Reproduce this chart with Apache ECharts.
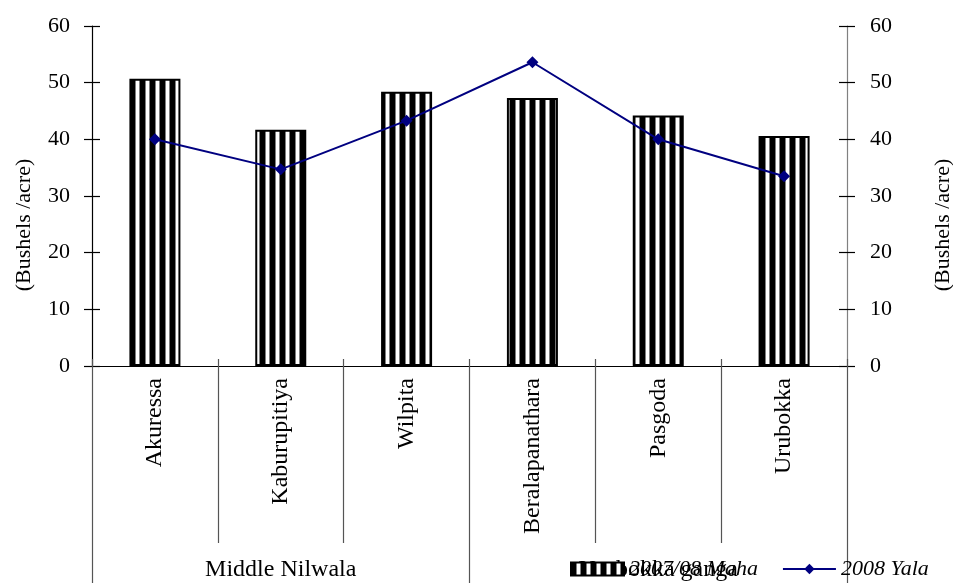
<!DOCTYPE html>
<html>
<head>
<meta charset="utf-8">
<script src="https://cdn.jsdelivr.net/npm/echarts@6/dist/echarts.min.js"></script>
<style>
  html, body { margin: 0; padding: 0; background: #fff; }
  #chart { width: 953px; height: 583px; }
</style>
</head>
<body>
<div id="chart"></div>
<script>
// Paddy yield by location, two seasons
const locations = ['Akuressa', 'Kaburupitiya', 'Wilpita', 'Beralapanathara', 'Pasgoda', 'Urubokka'];
const regions = ['Middle Nilwala', 'Urubokka ganga'];
const maha200708 = [50.7, 41.7, 48.4, 47.3, 44.2, 40.6];
const yala2008 = [40.0, 34.7, 43.3, 53.6, 40.0, 33.5];
const yTicks = { min: 0, max: 60, interval: 10 };

const FONT = '"Liberation Serif", "Times New Roman", serif';

// vertical stripe fill for the bars
function stripeCanvas() {
  const c = document.createElement('canvas');
  c.width = 10; c.height = 10;
  const g = c.getContext('2d');
  g.fillStyle = '#ffffff'; g.fillRect(0, 0, 10, 10);
  g.fillStyle = '#000000'; g.fillRect(0, 0, 5, 10);
  g.fillStyle = '#808080'; g.fillRect(5, 0, 1, 10); g.fillRect(9, 0, 1, 10);
  return c;
}
const stripes = { image: stripeCanvas(), repeat: 'repeat' };

const chart = echarts.init(document.getElementById('chart'), null, { renderer: 'canvas' });

const valueAxisBase = {
  type: 'value', min: yTicks.min, max: yTicks.max, interval: yTicks.interval,
  splitLine: { show: false }
};

chart.setOption({
  animation: false,
  backgroundColor: '#ffffff',
  grid: [
    { left: 92, right: 106, top: 26, bottom: 217, containLabel: false, outerBoundsMode: 'none' },
    // strip under the location labels holding the region names
    { left: 92, right: 106, top: 543, bottom: 0, containLabel: false, outerBoundsMode: 'none' }
  ],
  legend: {
    left: 570, top: 558, padding: 0,
    itemWidth: 53, itemHeight: 13, itemGap: 24,
    textStyle: { fontFamily: FONT, fontSize: 22, fontStyle: 'italic', color: '#000' },
    data: [{ name: '2007/08 Maha', icon: 'rect' }, { name: '2008 Yala' }]
  },
  xAxis: [
    {
      type: 'category', data: locations, position: 'bottom',
      axisLine: { lineStyle: { color: '#000', width: 1.2 } },
      axisTick: { show: true, interval: 0, length: 177, lineStyle: { color: '#555', width: 1.2 } },
      axisLabel: { interval: 0, rotate: 90, margin: 12, fontFamily: FONT, fontSize: 24, color: '#000' }
    },
    {
      type: 'category', data: locations, position: 'bottom',
      axisLine: { show: false },
      axisTick: { show: true, interval: 0, inside: true, length: 7, lineStyle: { color: '#555', width: 1.2 } },
      axisLabel: { show: false }
    },
    {
      type: 'category', data: regions, gridIndex: 1, position: 'bottom',
      axisLine: { show: false },
      axisTick: { show: true, interval: 0, inside: true, length: 40, lineStyle: { color: '#555', width: 1.2 } },
      axisLabel: { interval: 0, inside: true, margin: 1, fontFamily: FONT, fontSize: 24, color: '#000' }
    }
  ],
  yAxis: [
    Object.assign({}, valueAxisBase, {
      position: 'left',
      name: '(Bushels /acre)', nameLocation: 'middle', nameGap: 57,
      nameTextStyle: { fontFamily: FONT, fontSize: 22, color: '#000', padding: [0, 58, 0, 0] },
      axisLine: { show: true, lineStyle: { color: '#000', width: 1.2 } },
      axisTick: { show: true, length: 8, lineStyle: { color: '#000', width: 1.2 } },
      axisLabel: { margin: 22, fontFamily: FONT, fontSize: 22, color: '#000' }
    }),
    Object.assign({}, valueAxisBase, {
      position: 'left',
      axisLine: { show: false },
      axisTick: { show: true, inside: true, length: 8, lineStyle: { color: '#000', width: 1.2 } },
      axisLabel: { show: false }
    }),
    Object.assign({}, valueAxisBase, {
      position: 'right',
      name: '(Bushels /acre)', nameLocation: 'middle', nameGap: 85,
      nameTextStyle: { fontFamily: FONT, fontSize: 22, color: '#000', padding: [0, 58, 0, 0] },
      axisLine: { show: true, lineStyle: { color: '#808080', width: 1.2 } },
      axisTick: { show: true, length: 8, lineStyle: { color: '#000', width: 1.2 } },
      axisLabel: { margin: 23, fontFamily: FONT, fontSize: 22, color: '#000' }
    }),
    Object.assign({}, valueAxisBase, {
      position: 'right',
      axisLine: { show: false },
      axisTick: { show: true, inside: true, length: 8, lineStyle: { color: '#000', width: 1.2 } },
      axisLabel: { show: false }
    }),
    { type: 'value', gridIndex: 1, show: false }
  ],
  series: [
    {
      name: '2007/08 Maha', type: 'bar', xAxisIndex: 0, yAxisIndex: 0,
      data: maha200708, barWidth: 51,
      itemStyle: { color: stripes, borderColor: '#000', borderWidth: 2 }
    },
    {
      name: '2008 Yala', type: 'line', xAxisIndex: 0, yAxisIndex: 2,
      data: yala2008,
      symbol: 'diamond', symbolSize: 12,
      lineStyle: { color: '#000080', width: 2 },
      itemStyle: { color: '#000080' }
    }
  ]
});
</script>
</body>
</html>
